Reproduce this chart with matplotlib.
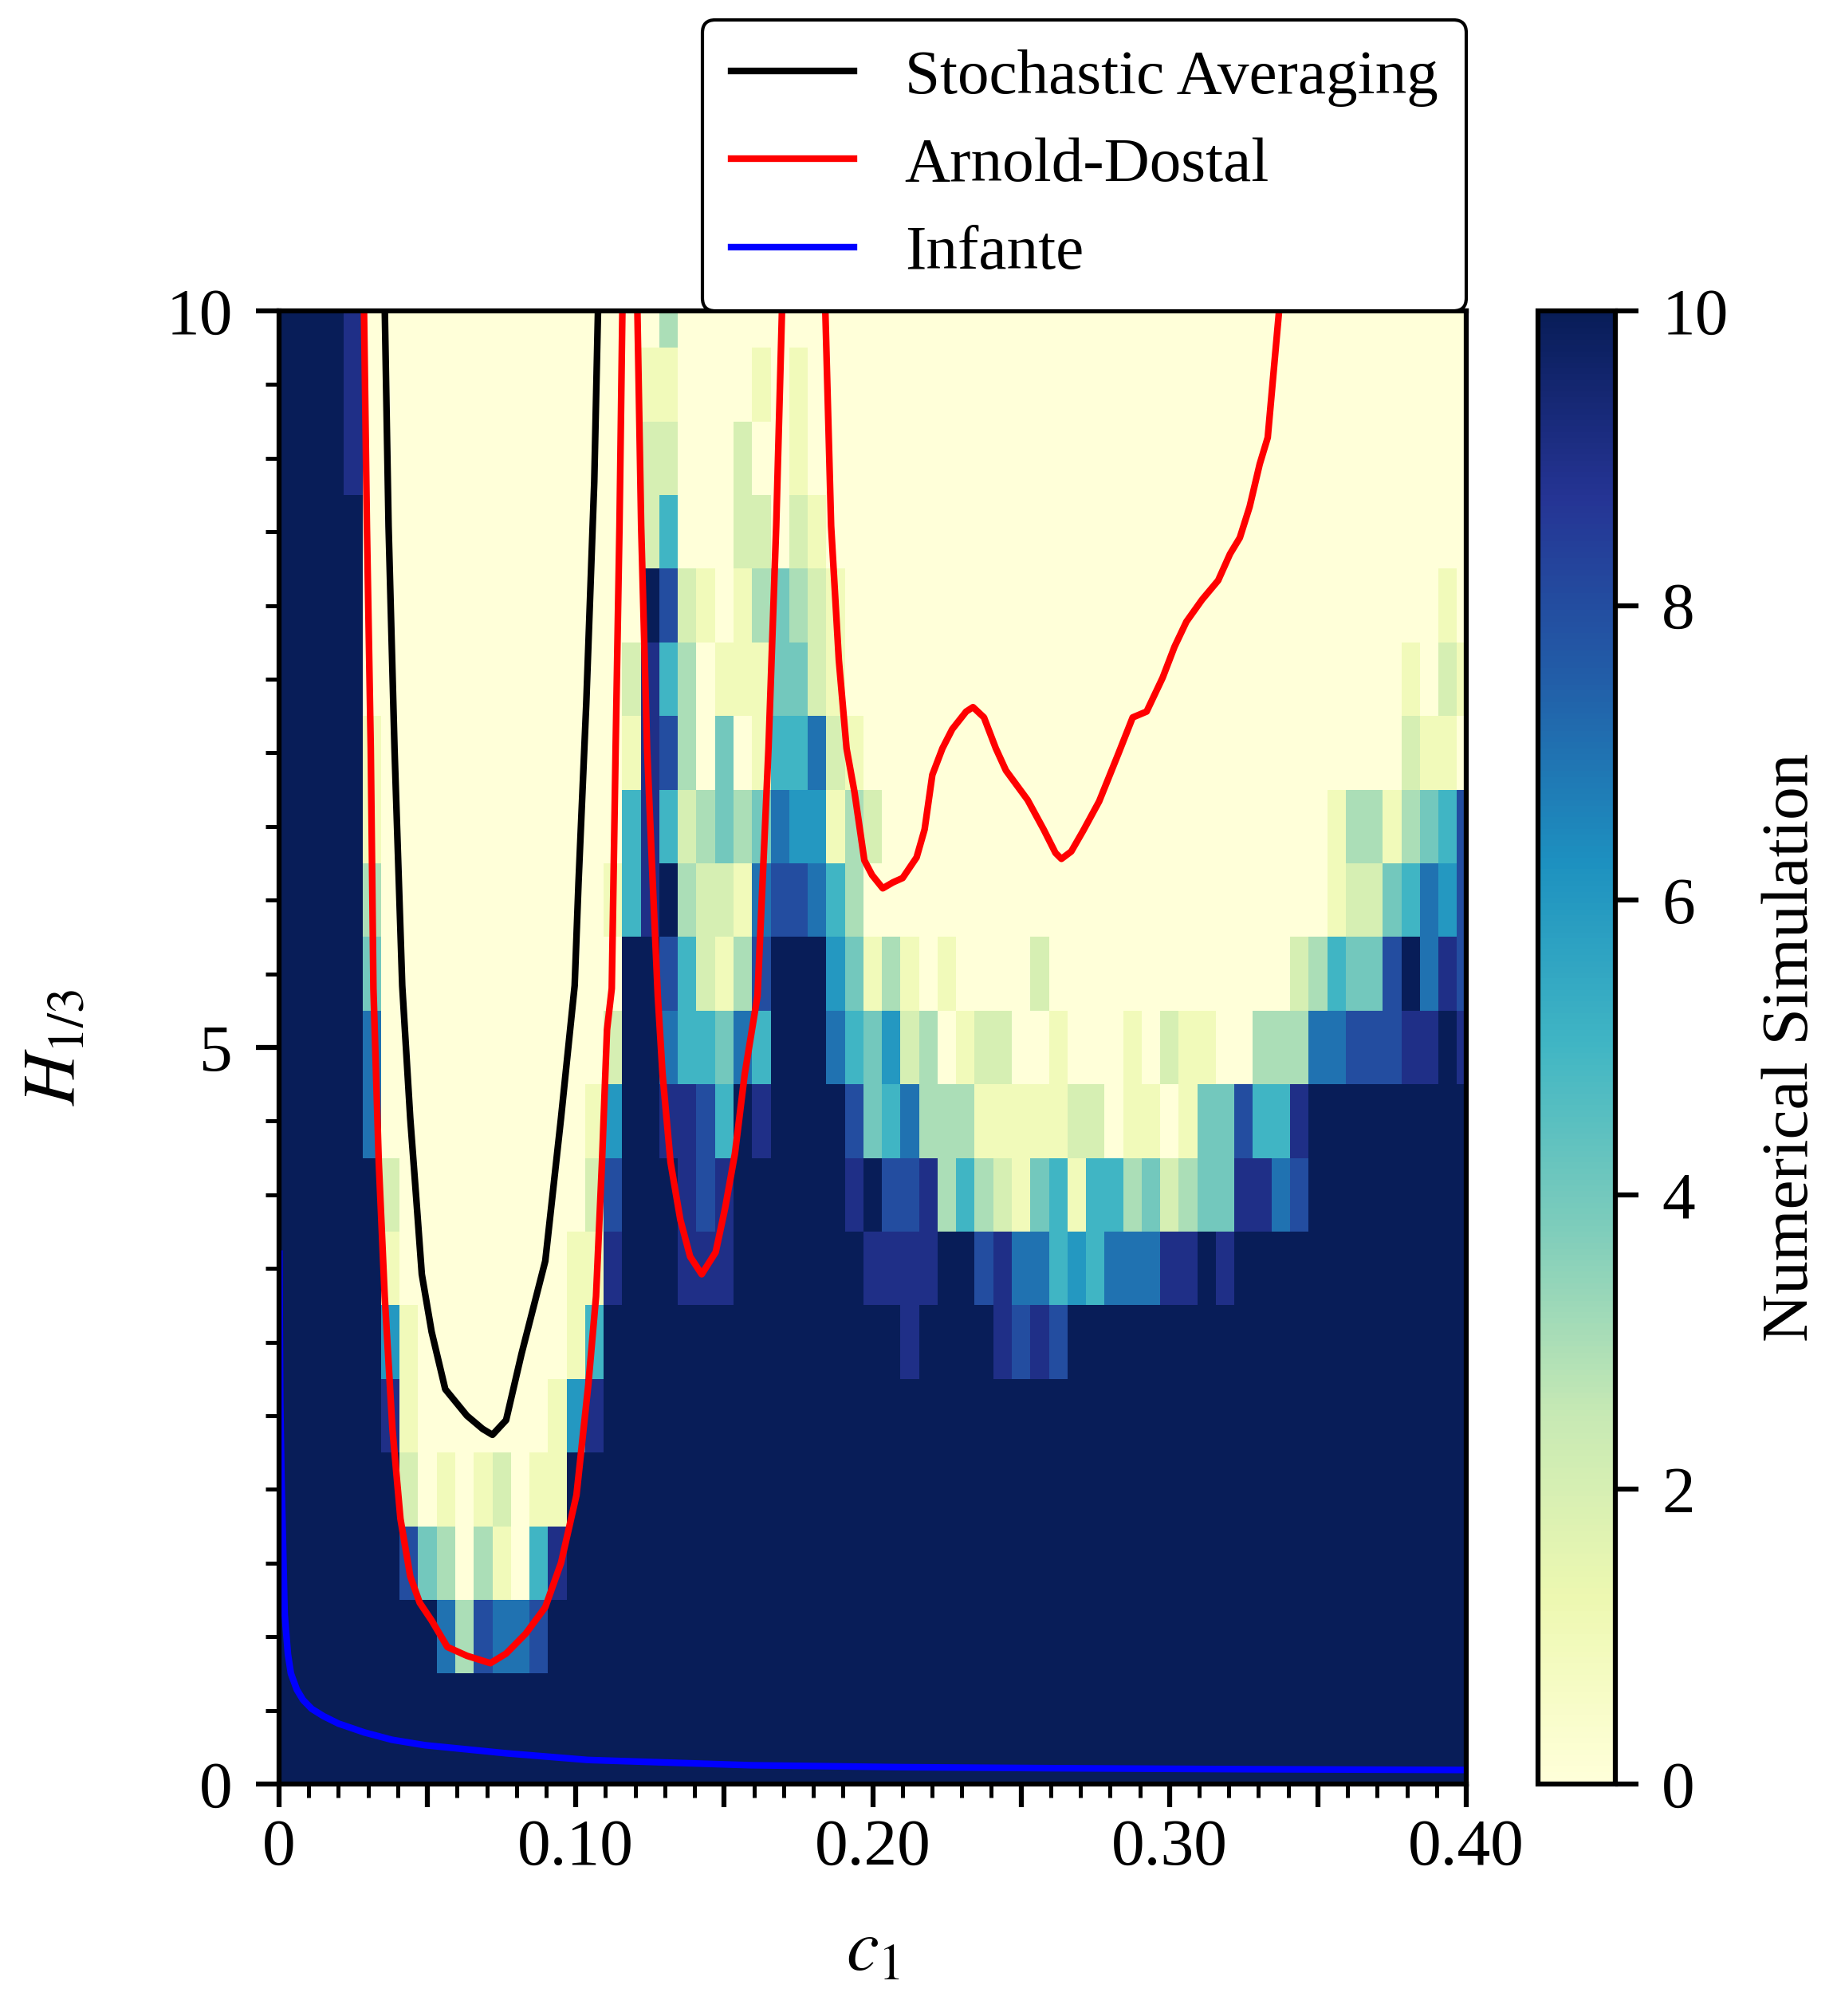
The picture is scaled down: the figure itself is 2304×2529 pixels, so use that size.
import numpy as np
import matplotlib
matplotlib.use('Agg')
import matplotlib.pyplot as plt
from matplotlib.ticker import MultipleLocator, FuncFormatter

plt.rcParams['font.family'] = 'serif'
plt.rcParams['font.serif'] = ['Liberation Serif', 'DejaVu Serif']
plt.rcParams['mathtext.fontset'] = 'stix'
plt.rcParams['font.size'] = 20

# simulation grid
c1_grid = np.linspace(0, 0.4, 65)
h_grid = np.linspace(0, 10, 21)

# numerical simulation map, one string per H row from H=10 (top) to H=0; 'A' = 10
sim_rows = [
    "AAAA9" + "0" * 16 + "3" + "0" * 43,
    "AAAA9" + "0" * 15 + "11" + "0000" + "1" + "0" + "1" + "0" * 36,
    "AAAA9" + "0" * 15 + "22" + "000" + "2" + "00" + "1" + "0" * 36,
    "AAAAA" + "0" * 15 + "25" + "000" + "22" + "0" + "21" + "0" * 35,
    "AAAAA" + "0" * 15 + "A8210134321" + "0" * 32 + "10",
    "AAAAA" + "0" * 14 + "295301114421" + "0" * 30 + "1021",
    "AAAAA" + "1" + "0" * 13 + "1983040155721" + "0" * 29 + "2110",
    "AAAAA" + "1" + "0" * 13 + "59523434766132" + "0" * 24 + "13313458",
    "AAAAA" + "3" + "0" * 12 + "159A3221788753" + "0" * 25 + "12245768",
    "AAAAA" + "4" + "0" * 13 + "AA852138AAA64131" + "0" + "1" + "0000" + "2" + "0" * 13 + "235448A798",
    "AAAAA" + "7" + "0" * 12 + "2AA755475AAA754623" + "0122001000102110" + "03337788899A9",
    "AAAAA" + "7" + "0" * 11 + "16AA9985A9AAAA8457" + "333111112201101448559" + "A" * 9,
    "AAAAAA" + "2" + "0" * 10 + "28AAA989AAAAAA9A889" + "35321451553423449978" + "A" * 9,
    "AAAAAA" + "1" + "0" * 9 + "119AAA999AAAAAAA" + "9999AA897756577799A9" + "A" * 13,
    "AAAAAA" + "61" + "0" * 8 + "15" + "A" * 16 + "9" + "AAAA" + "9898" + "A" * 22,
    "AAAAAA" + "91" + "0" * 7 + "169" + "A" * 47,
    "AAAAAAA" + "201012011" + "A" * 49,
    "AAAAAAA" + "843031059" + "A" * 49,
    "A" * 9 + "738778" + "A" * 50,
    "A" * 65,
    "A" * 65,
]

# Stochastic Averaging
sa_c = [0.0356, 0.0369, 0.0389, 0.0415, 0.0442, 0.0461, 0.0481, 0.0514, 0.0560, 0.0633,
        0.0686, 0.0719, 0.0765, 0.0817, 0.0897, 0.0950, 0.0996, 0.1009, 0.1035, 0.1062, 0.1075]
sa_h = [10.04, 8.54, 7.03, 5.42, 4.52, 4.01, 3.46, 3.07, 2.68, 2.50,
        2.41, 2.37, 2.47, 2.92, 3.55, 4.52, 5.42, 6.12, 7.33, 8.84, 10.04]

# Arnold-Dostal (three branches below H = 10)
ad1_c = [0.0286, 0.0296, 0.0309, 0.0318, 0.0336, 0.0356, 0.0382, 0.0409, 0.0442, 0.0474,
         0.0514, 0.0567, 0.0633, 0.0712, 0.0765, 0.0831, 0.0897, 0.0950, 0.1002, 0.1042,
         0.1068, 0.1088, 0.1105, 0.1121, 0.1134, 0.1147, 0.1157]
ad1_h = [10.04, 8.54, 7.03, 5.40, 4.22, 3.31, 2.41, 1.80, 1.41, 1.23,
         1.11, 0.93, 0.87, 0.82, 0.885, 1.02, 1.20, 1.50, 1.96, 2.71,
         3.31, 4.22, 5.12, 5.40, 7.03, 8.54, 10.04]
ad2_c = [0.1207, 0.1220, 0.1240, 0.1259, 0.1276, 0.1292, 0.1319, 0.1352, 0.1385, 0.1424,
         0.1471, 0.1503, 0.1536, 0.1569, 0.1612, 0.1649, 0.1675, 0.1695]
ad2_h = [10.04, 8.54, 7.03, 6.12, 5.35, 4.82, 4.22, 3.83, 3.58, 3.46,
         3.61, 3.91, 4.28, 4.82, 5.35, 7.03, 8.54, 10.04]
ad3_c = [0.1840, 0.1860, 0.1886, 0.1912, 0.1939, 0.1972, 0.1998, 0.2034, 0.2068, 0.2101,
         0.2148, 0.2175, 0.2201, 0.2235, 0.2268, 0.2315, 0.2338, 0.2375, 0.2415, 0.2449,
         0.2522, 0.2576, 0.2616, 0.2636, 0.2669, 0.2709, 0.2763, 0.2829, 0.2876, 0.2923,
         0.2977, 0.3017, 0.3057, 0.3110, 0.3164, 0.3204, 0.3237, 0.3270, 0.3304, 0.3331,
         0.3351, 0.3371]
ad3_h = [10.04, 8.54, 7.63, 7.03, 6.73, 6.27, 6.17, 6.08, 6.12, 6.15,
         6.29, 6.48, 6.85, 7.03, 7.16, 7.28, 7.31, 7.24, 7.03, 6.88,
         6.68, 6.48, 6.32, 6.28, 6.33, 6.47, 6.67, 7.00, 7.24, 7.28,
         7.51, 7.72, 7.89, 8.04, 8.17, 8.35, 8.46, 8.67, 8.96, 9.14,
         9.59, 10.04]

# Infante
inf_c = [0.0001, 0.0004, 0.0008, 0.0012, 0.0019, 0.003, 0.004, 0.006, 0.0081, 0.011,
         0.015, 0.02, 0.0287, 0.038, 0.0492, 0.0767, 0.104, 0.1315, 0.159, 0.2095,
         0.26, 0.33, 0.4]
inf_h = [3.6, 2.6, 2.1, 1.75, 1.15, 0.88, 0.75, 0.64, 0.57, 0.51,
         0.46, 0.41, 0.35, 0.30, 0.263, 0.208, 0.163, 0.145, 0.127, 0.114,
         0.107, 0.10, 0.095]

for r in sim_rows:
    assert len(r) == 65, len(r)
sim = np.array([[10 if ch == 'A' else int(ch) for ch in r] for r in sim_rows[::-1]], dtype=float)

fig = plt.figure(figsize=(7.68, 8.43), dpi=300)
ax = fig.add_axes([0.1519, 0.1151, 0.6463, 0.7307])
cax = fig.add_axes([0.8372, 0.1151, 0.0421, 0.7307])

mesh = ax.pcolormesh(c1_grid, h_grid, sim, cmap='YlGnBu', vmin=0, vmax=10,
                     shading='nearest', rasterized=True)

lw = 2.0
ax.plot(sa_c, sa_h, color='black', lw=lw, label='Stochastic Averaging')
ax.plot(ad1_c, ad1_h, color='red', lw=lw, label='Arnold-Dostal')
ax.plot(ad2_c, ad2_h, color='red', lw=lw)
ax.plot(ad3_c, ad3_h, color='red', lw=lw)
ax.plot(inf_c, inf_h, color='blue', lw=lw, label='Infante')

ax.set_xlim(0, 0.4)
ax.set_ylim(0, 10)

ax.xaxis.set_major_locator(MultipleLocator(0.05))
ax.xaxis.set_minor_locator(MultipleLocator(0.01))


def xfmt(v, pos):
    k = v / 0.1
    if abs(k - round(k)) > 1e-6:
        return ''
    if abs(v) < 1e-9:
        return '0'
    return '%.2f' % v


ax.xaxis.set_major_formatter(FuncFormatter(xfmt))
ax.yaxis.set_major_locator(MultipleLocator(5))
ax.yaxis.set_minor_locator(MultipleLocator(0.5))

for sp in ax.spines.values():
    sp.set_linewidth(1.5)
ax.tick_params(which='major', length=7, width=1.5, direction='out')
ax.tick_params(which='minor', length=4, width=1.2, direction='out')
ax.tick_params(axis='y', pad=7)

ax.set_xlabel('$c_1$', fontsize=22, labelpad=12)
ax.set_ylabel('$H_{1/3}$', fontsize=22, labelpad=23)

cb = fig.colorbar(mesh, cax=cax)
cb.set_ticks([0, 2, 4, 6, 8, 10])
cb.outline.set_linewidth(1.5)
cax.tick_params(length=7, width=1.5, pad=7)
cb.set_label('Numerical Simulation', fontsize=20, labelpad=10)

leg = ax.legend(loc='lower right', bbox_to_anchor=(1.0, 1.0), borderaxespad=0.0,
                frameon=True, fancybox=True, framealpha=1, edgecolor='black',
                fontsize=19, handlelength=1.95, handletextpad=0.8, labelspacing=0.48,
                borderpad=0.45)
leg.get_frame().set_linewidth(1.0)

fig.savefig('out.png', dpi=300)
